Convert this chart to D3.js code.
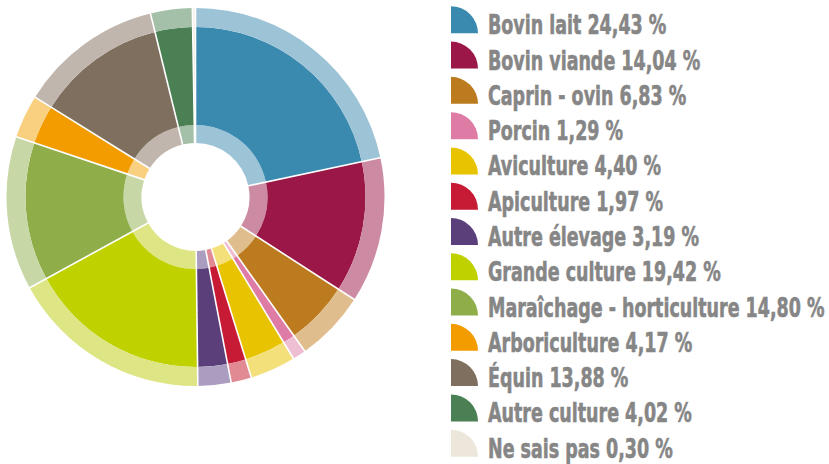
<!DOCTYPE html>
<html>
<head>
<meta charset="utf-8">
<script src="https://cdn.jsdelivr.net/npm/d3@7/dist/d3.min.js"></script>
<style>
  html, body { margin: 0; padding: 0; background: #fff; }
  svg { display: block; }
</style>
</head>
<body>
<svg id="chart" width="829" height="464"></svg>
<script>
// Répartition des exploitations par filière
const categories = [
  "Bovin lait", "Bovin viande", "Caprin - ovin", "Porcin", "Aviculture",
  "Apiculture", "Autre élevage", "Grande culture", "Maraîchage - horticulture",
  "Arboriculture", "Équin", "Autre culture", "Ne sais pas"
];
const values = [24.43, 14.04, 6.83, 1.29, 4.40, 1.97, 3.19, 19.42, 14.80, 4.17, 13.88, 4.02, 0.30];
const labels = [
  "24,43 %", "14,04 %", "6,83 %", "1,29 %", "4,40 %", "1,97 %", "3,19 %",
  "19,42 %", "14,80 %", "4,17 %", "13,88 %", "4,02 %", "0,30 %"
];
const mainColors = [
  "#3a8ab0", "#9a1747", "#bd7b1f", "#de7ca6", "#e8c400", "#c61a35", "#5a3f7a",
  "#c0d100", "#8fae4a", "#f39c00", "#7f6f5f", "#4a8053", "#ece7da"
];
const lightColors = [
  "#9dc4d6", "#cc8aa3", "#dfbd8d", "#eebfd3", "#f3e07a", "#e28a94", "#ab9dbf",
  "#dee584", "#c8d7a6", "#f9cf80", "#c0b6ad", "#a5c0a8", "#f3f0e8"
];

const svg = d3.select("#chart");
const cx = 195.5, cy = 197;
const rHole = 54, rInner = 72, rMain = 170, rOuter = 189;

const pie = d3.pie().sort(null).value(d => d)(values);
const g = svg.append("g").attr("transform", `translate(${cx},${cy})`);

const arcInner = d3.arc().innerRadius(rHole).outerRadius(rInner);
const arcMain = d3.arc().innerRadius(rInner).outerRadius(rMain);
const arcOuter = d3.arc().innerRadius(rMain).outerRadius(rOuter);

const slices = g.selectAll("g.slice").data(pie).join("g").attr("class", "slice");
slices.append("path").attr("d", arcInner).attr("fill", (d, i) => lightColors[i]);
slices.append("path").attr("d", arcMain).attr("fill", (d, i) => mainColors[i]);
slices.append("path").attr("d", arcOuter).attr("fill", (d, i) => lightColors[i]);

// white separators between slices
g.selectAll("line.sep").data(pie).join("line")
  .attr("class", "sep")
  .attr("x1", d => Math.sin(d.startAngle) * (rHole - 1))
  .attr("y1", d => -Math.cos(d.startAngle) * (rHole - 1))
  .attr("x2", d => Math.sin(d.startAngle) * (rOuter + 1))
  .attr("y2", d => -Math.cos(d.startAngle) * (rOuter + 1))
  .attr("stroke", "#fff")
  .attr("stroke-width", 1.6);

// legend
const legendX = 451, legendY0 = 33.3, legendStep = 35.28, iconR = 27;
const textScale = 0.72;
const legend = svg.append("g");
const rows = legend.selectAll("g.row").data(categories).join("g")
  .attr("class", "row")
  .attr("transform", (d, i) => `translate(${legendX},${legendY0 + i * legendStep})`);

const quarter = d3.arc().innerRadius(0).outerRadius(iconR).startAngle(0).endAngle(Math.PI / 2);
rows.append("path").attr("d", quarter).attr("fill", (d, i) => mainColors[i]);

rows.append("text")
  .attr("transform", `translate(37,1) scale(${textScale},1)`)
  .attr("font-family", "'DejaVu Sans Condensed', 'DejaVu Sans', sans-serif")
  .attr("font-weight", "bold")
  .attr("font-size", 27)
  .attr("fill", "#868686")
  .attr("stroke", "#868686")
  .attr("stroke-width", 0.6)
  .text((d, i) => `${d} ${labels[i]}`);
</script>
</body>
</html>
